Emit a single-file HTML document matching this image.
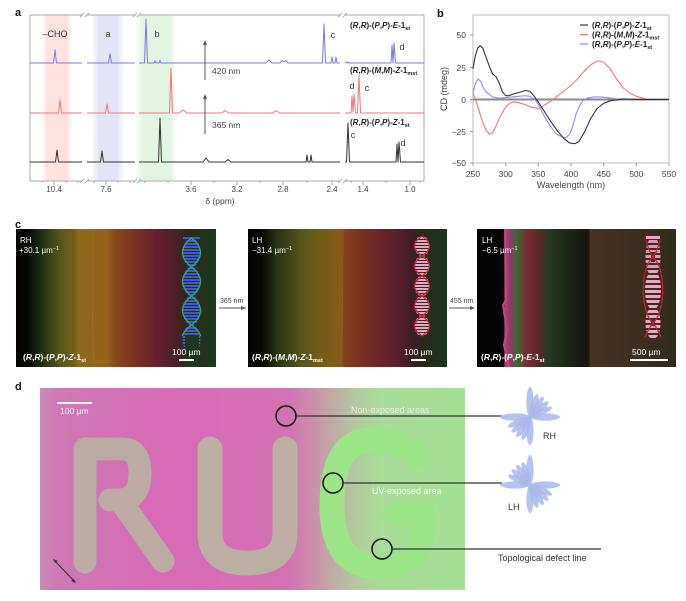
<!DOCTYPE html>
<html><head><meta charset="utf-8">
<style>
html,body{margin:0;padding:0;background:#fff;}
svg{display:block;font-family:"Liberation Sans",Arial,sans-serif;}
</style></head>
<body>
<svg width="686" height="601" viewBox="0 0 686 601" xmlns="http://www.w3.org/2000/svg">
<defs>
  <linearGradient id="bandP" x1="0" x2="1" y1="0" y2="0">
    <stop offset="0" stop-color="#fde6e2" stop-opacity="0"/><stop offset="0.2" stop-color="#fde2dd"/><stop offset="0.8" stop-color="#fde2dd"/><stop offset="1" stop-color="#fde6e2" stop-opacity="0"/>
  </linearGradient>
  <linearGradient id="bandL" x1="0" x2="1" y1="0" y2="0">
    <stop offset="0" stop-color="#e6e6f8" stop-opacity="0"/><stop offset="0.2" stop-color="#e4e4f8"/><stop offset="0.8" stop-color="#e4e4f8"/><stop offset="1" stop-color="#e6e6f8" stop-opacity="0"/>
  </linearGradient>
  <linearGradient id="bandG" x1="0" x2="1" y1="0" y2="0">
    <stop offset="0" stop-color="#e2f4e2" stop-opacity="0"/><stop offset="0.2" stop-color="#e2f5e2"/><stop offset="0.8" stop-color="#e2f5e2"/><stop offset="1" stop-color="#e2f4e2" stop-opacity="0"/>
  </linearGradient>
  <linearGradient id="img1" x1="0" x2="1" y1="0" y2="0">
    <stop offset="0" stop-color="#040404"/><stop offset="0.06" stop-color="#070905"/>
    <stop offset="0.12" stop-color="#1c2c10"/><stop offset="0.22" stop-color="#56561a"/>
    <stop offset="0.30" stop-color="#786218"/><stop offset="0.31" stop-color="#8c6a1c"/>
    <stop offset="0.45" stop-color="#98621a"/><stop offset="0.5" stop-color="#88481c"/>
    <stop offset="0.6" stop-color="#7a3020"/><stop offset="0.7" stop-color="#682030"/>
    <stop offset="0.8" stop-color="#4a1e28"/><stop offset="0.86" stop-color="#2c2a1c"/>
    <stop offset="1" stop-color="#1a381c"/>
  </linearGradient>
  <linearGradient id="img2" x1="0" x2="1" y1="0" y2="0">
    <stop offset="0" stop-color="#040404"/><stop offset="0.07" stop-color="#080906"/>
    <stop offset="0.15" stop-color="#2a3412"/><stop offset="0.27" stop-color="#56561a"/>
    <stop offset="0.36" stop-color="#725e18"/><stop offset="0.47" stop-color="#8a5a1a"/>
    <stop offset="0.48" stop-color="#86401c"/><stop offset="0.6" stop-color="#742c22"/>
    <stop offset="0.72" stop-color="#62202e"/><stop offset="0.82" stop-color="#401c26"/>
    <stop offset="0.88" stop-color="#262a1a"/><stop offset="1" stop-color="#1a361c"/>
  </linearGradient>
  <linearGradient id="img3" x1="0" x2="1" y1="0" y2="0">
    <stop offset="0" stop-color="#030303"/><stop offset="0.135" stop-color="#050505"/>
    <stop offset="0.14" stop-color="#b04070"/><stop offset="0.17" stop-color="#8a3a6a"/>
    <stop offset="0.2" stop-color="#3a6a30"/><stop offset="0.25" stop-color="#7a2a30"/>
    <stop offset="0.31" stop-color="#5a2a28"/><stop offset="0.36" stop-color="#283820"/>
    <stop offset="0.46" stop-color="#1c2414"/><stop offset="0.56" stop-color="#151510"/>
    <stop offset="0.57" stop-color="#4a3222"/><stop offset="0.8" stop-color="#3e2e1e"/>
    <stop offset="1" stop-color="#2e2c18"/>
  </linearGradient>
  <linearGradient id="dbg" x1="0" x2="1" y1="0" y2="0">
    <stop offset="0" stop-color="#c88cb4"/><stop offset="0.04" stop-color="#cf78b4"/>
    <stop offset="0.3" stop-color="#d86ab6"/><stop offset="0.58" stop-color="#d470b4"/>
    <stop offset="0.66" stop-color="#c69aa8"/><stop offset="0.74" stop-color="#b4c8a0"/>
    <stop offset="0.8" stop-color="#a8dc98"/><stop offset="1" stop-color="#a4e094"/>
  </linearGradient>
  <pattern id="pb" width="4" height="3" patternUnits="userSpaceOnUse"><rect width="4" height="2" fill="#3c5ad6"/></pattern>
  <pattern id="pp" width="4" height="3" patternUnits="userSpaceOnUse"><rect width="4" height="2" fill="#eaa6c6"/></pattern>
  <pattern id="pp3" width="4" height="5" patternUnits="userSpaceOnUse"><rect width="4" height="3" fill="#f0a4c4"/></pattern>
  <clipPath id="c1"><rect x="16" y="229" width="200" height="138"/></clipPath>
  <clipPath id="c2"><rect x="248" y="229" width="199" height="138"/></clipPath>
  <clipPath id="c3"><rect x="477" y="229" width="199" height="138"/></clipPath>
</defs>

<!-- ================= PANEL A ================= -->
<text x="15" y="16" font-size="11" font-weight="bold" fill="#111">a</text>
<rect x="41" y="15" width="32" height="166" fill="url(#bandP)"/>
<rect x="92" y="15" width="32" height="166" fill="url(#bandL)"/>
<rect x="135" y="15" width="43" height="166" fill="url(#bandG)"/>
<g stroke="#aaa" stroke-width="1" fill="none">
  <path d="M30,15 L82,15 M87,15 L135,15 M139,15 L340,15 M345,15 L424,15"/>
  <path d="M30,15 L30,181 M424,15 L424,181"/>
  <path d="M30,181 L82,181 M87,181 L135,181 M139,181 L340,181 M345,181 L424,181"/>
  <path d="M80,17 L84,13 M85,17 L89,13 M133,17 L137,13 M137,17 L141,13 M338,17 L342,13 M343,17 L347,13"/>
  <path d="M80,183 L84,179 M85,183 L89,179 M133,183 L137,179 M137,183 L141,179 M338,183 L342,179 M343,183 L347,179"/>
  <path d="M54,181 v4 M106,181 v4 M191,181 v4 M237,181 v4 M283,181 v4 M332,181 v4 M363,181 v4 M410,181 v4"/>
  <path d="M42,181 v2 M66,181 v2 M78,181 v2 M94,181 v2 M118,181 v2 M130,181 v2 M145,181 v2 M168,181 v2 M214,181 v2 M260,181 v2 M307,181 v2 M351,181 v2 M386,181 v2 M420,181 v2"/>
</g>
<g font-size="8" fill="#444" text-anchor="middle">
  <text x="54" y="192">10.4</text><text x="106" y="192">7.6</text><text x="191" y="192">3.6</text>
  <text x="237" y="192">3.2</text><text x="283" y="192">2.8</text><text x="332" y="192">2.4</text>
  <text x="363" y="192">1.4</text><text x="410" y="192">1.0</text>
  <text x="220" y="204" font-size="8.5">δ (ppm)</text>
</g>
<!-- spectra -->
<g fill="none" stroke-width="1" stroke-linejoin="round">
<path stroke="#7878ee" d="M30,63 L53.5,63 L55,50 L56.5,63 L82,63 M87,63 L108.5,63 L110,54 L111.5,63 L135,63 M139,63 L144.5,63 L146,19 L147.5,63 L154,63 L155,61 L156,63 L159,63 L160,60.5 L161,63 L266,63 L269,60 L272,63 L280,63 L282,60.5 L284,62 L286,60.5 L288,63 L322.5,63 L324,24 L325.5,63 L331,63 L332,57 L333,63 L335,63 L336,57 L337,63 L340,63 M345,63 L348,62 L349,63 L391,63 L392,45 L393,63 L394,43 L395.5,63 L424,63"/>
<path stroke="#f07676" d="M30,113 L58.5,113 L60,100 L61.5,113 L82,113 M87,113 L105.5,113 L107,104 L108.5,113 L135,113 M139,113 L169.5,113 L171,68 L172.5,113 L179,113 L183,110 L187,113 L222,113 L225,110.5 L229,113 L273,113 L276,110.5 L280,113 L340,113 M345,113 L351,113 L352,96 L353,112 L354,94 L355.5,113 L357.5,113 L359,75 L360.5,113 L424,113"/>
<path stroke="#333" d="M30,162 L55.5,162 L57,150 L58.5,162 L82,162 M87,162 L100.5,162 L102,151 L103.5,162 L135,162 M139,162 L158.5,162 L160,118 L161.5,162 L203,162 L206,158 L209,162 L225,162 L228,159.5 L231,162 L306,162 L307,155 L308,162 L310,162 L311,155 L312,162 L340,162 M345,162 L346.5,162 L348,123 L349.5,162 L396,162 L397,144 L398,162 L399,142 L400.5,162 L424,162"/>
</g>
<g font-size="9" fill="#333">
  <text x="55" y="37" text-anchor="middle">–CHO</text>
  <text x="108" y="37" text-anchor="middle">a</text>
  <text x="157" y="37" text-anchor="middle">b</text>
  <text x="333" y="38" text-anchor="middle">c</text>
  <text x="402" y="50" text-anchor="middle">d</text>
  <text x="352" y="89" text-anchor="middle">d</text>
  <text x="367" y="91" text-anchor="middle">c</text>
  <text x="353" y="138" text-anchor="middle">c</text>
  <text x="403" y="146" text-anchor="middle">d</text>
  <text x="212" y="74" font-size="8.5" fill="#444">420 nm</text>
  <text x="212" y="128" font-size="8.5" fill="#444">365 nm</text>
</g>
<g stroke="#555" stroke-width="1"><path d="M205,80 L205,44 M205,134 L205,98"/></g>
<g fill="#555"><path d="M203,45 L205,40 L207,45 Z M203,99 L205,94 L207,99 Z"/></g>
<g font-size="8" font-weight="bold" fill="#222">
  <text x="350" y="28">(<tspan font-style="italic">R</tspan>,<tspan font-style="italic">R</tspan>)-(<tspan font-style="italic">P</tspan>,<tspan font-style="italic">P</tspan>)-<tspan font-style="italic">E</tspan>-1<tspan font-size="5.5" dy="2">st</tspan></text>
  <text x="350" y="73">(<tspan font-style="italic">R</tspan>,<tspan font-style="italic">R</tspan>)-(<tspan font-style="italic">M</tspan>,<tspan font-style="italic">M</tspan>)-<tspan font-style="italic">Z</tspan>-1<tspan font-size="5.5" dy="2">mst</tspan></text>
  <text x="350" y="125">(<tspan font-style="italic">R</tspan>,<tspan font-style="italic">R</tspan>)-(<tspan font-style="italic">P</tspan>,<tspan font-style="italic">P</tspan>)-<tspan font-style="italic">Z</tspan>-1<tspan font-size="5.5" dy="2">st</tspan></text>
</g>

<!-- ================= PANEL B ================= -->
<text x="437" y="17" font-size="11" font-weight="bold" fill="#111">b</text>
<rect x="473" y="15" width="196" height="148" fill="none" stroke="#bbb" stroke-width="1"/>
<g stroke="#999" stroke-width="1">
  <path d="M470,35 h3 M470,67.5 h3 M470,99.5 h3 M470,131.5 h3 M470,163 h3"/>
  <path d="M473,163 v3 M505.7,163 v3 M538.3,163 v3 M571,163 v3 M603.7,163 v3 M636.3,163 v3 M669,163 v3"/>
</g>
<g font-size="8.5" fill="#444" text-anchor="end">
  <text x="466" y="38">50</text><text x="466" y="71">25</text><text x="466" y="103">0</text>
  <text x="466" y="135">−25</text><text x="466" y="166">−50</text>
</g>
<g font-size="8.5" fill="#444" text-anchor="middle">
  <text x="473" y="177">250</text><text x="505.7" y="177">300</text><text x="538.3" y="177">350</text>
  <text x="571" y="177">400</text><text x="603.7" y="177">450</text><text x="636.3" y="177">500</text>
  <text x="669" y="177">550</text>
  <text x="571" y="188" font-size="9">Wavelength (nm)</text>
  <text transform="translate(447,89) rotate(-90)" font-size="9">CD (mdeg)</text>
</g>
<line x1="473" y1="99.5" x2="669" y2="99.5" stroke="#8a8a8a" stroke-width="2"/>
<g fill="none" stroke-width="1.1" stroke-linejoin="round">
<polyline stroke="#f07676" points="473,93.1 476.3,102.1 479.5,112.3 482.8,122.5 486.1,130.2 489.3,134.1 492.6,132.8 495.9,126.4 499.1,118.7 502.4,112.3 505.7,107.2 508.9,104 512.2,102.1 515.5,102.1 518.7,102.7 525.3,104.6 531.8,107.2 538.3,108.5 541.6,107.2 544.9,104.6 551.4,100.8 557.9,95.7 564.5,90.5 571,85.4 577.5,79 584.1,71.3 590.6,64.9 597.1,61.1 600.4,61.1 603.7,62.4 610.2,68.8 616.7,79 623.3,88 629.8,93.1 636.3,96.3 642.9,98.2 649.4,99.5 669,99.5"/>
<polyline stroke="#8c8cf2" points="473,93.1 475.6,82.9 478.2,79 480.8,81.6 483.5,88 486.1,91.8 489.3,94.4 492.6,96.9 499.1,98.2 505.7,97.6 512.2,96.9 518.7,96.3 525.3,95.7 529.8,96.3 535.1,99.5 538.3,104.6 544.9,117.4 551.4,127.7 556.6,134.1 561.2,136.6 565.8,137.9 569.7,134.1 573,125.1 576.2,113.6 579.5,105.9 582.8,100.8 587.3,98.2 593.9,96.9 600.4,96.9 606.9,97.6 616.7,98.9 629.8,99.5 669,99.5"/>
<polyline stroke="#333" points="473,68.8 475,57.3 477.6,48.3 480.2,45.7 482.8,48.3 486.1,57.3 489.3,66.2 492.6,73.9 495.9,76.5 499.1,82.9 502.4,91.8 505.7,95.7 508.9,95.7 512.2,94.4 518.7,92.5 525.3,90.5 529.8,91.2 533.8,95.7 538.3,102.1 544.9,112.3 551.4,122.5 557.9,131.5 564.5,139.2 569.7,143 574.3,143.7 578.8,141.7 584.1,132.8 590.6,118.7 597.1,108.5 603.7,103.3 610.2,100.8 623.3,98.9 636.3,99.5 669,99.5"/>
</g>
<g stroke-width="1.2">
  <line x1="580" y1="25" x2="588" y2="25" stroke="#333"/>
  <line x1="580" y1="34.5" x2="588" y2="34.5" stroke="#f07676"/>
  <line x1="580" y1="44" x2="588" y2="44" stroke="#8c8cf2"/>
</g>
<g font-size="8" font-weight="bold" fill="#222">
  <text x="592" y="28">(<tspan font-style="italic">R</tspan>,<tspan font-style="italic">R</tspan>)-(<tspan font-style="italic">P</tspan>,<tspan font-style="italic">P</tspan>)-<tspan font-style="italic">Z</tspan>-1<tspan font-size="5.5" dy="2">st</tspan></text>
  <text x="592" y="37.5">(<tspan font-style="italic">R</tspan>,<tspan font-style="italic">R</tspan>)-(<tspan font-style="italic">M</tspan>,<tspan font-style="italic">M</tspan>)-<tspan font-style="italic">Z</tspan>-1<tspan font-size="5.5" dy="2">mst</tspan></text>
  <text x="592" y="47">(<tspan font-style="italic">R</tspan>,<tspan font-style="italic">R</tspan>)-(<tspan font-style="italic">P</tspan>,<tspan font-style="italic">P</tspan>)-<tspan font-style="italic">E</tspan>-1<tspan font-size="5.5" dy="2">st</tspan></text>
</g>

<!-- ================= PANEL C ================= -->
<text x="15" y="228" font-size="11" font-weight="bold" fill="#111">c</text>
<rect x="16" y="229" width="200" height="138" fill="url(#img1)"/>
<rect x="248" y="229" width="199" height="138" fill="url(#img2)"/>
<rect x="477" y="229" width="199" height="138" fill="url(#img3)"/>
<!-- subtle boundary lines -->
<path d="M93,229 Q91,290 94,367" stroke="#a0782a" stroke-width="1" fill="none" opacity="0.6"/>
<path d="M343,229 L342,367" stroke="#9a6a28" stroke-width="1" fill="none" opacity="0.5"/>
<path d="M505,229 L506,300 L503,305 L507,330 L504,345 L509,367" stroke="#c04878" stroke-width="2" fill="none"/>

<!-- helix 1 -->
<g clip-path="url(#c1)">
  <ellipse cx="191.5" cy="252.5" rx="9" ry="14.5" fill="url(#pb)"/>
  <ellipse cx="191.5" cy="281.5" rx="9" ry="14.5" fill="url(#pb)"/>
  <ellipse cx="191.5" cy="310.5" rx="9" ry="14.5" fill="url(#pb)"/>
  <ellipse cx="191.5" cy="339.5" rx="9" ry="14.5" fill="url(#pb)"/>
  <rect x="185" y="336" width="14" height="40" fill="#1a381c"/>
  <rect x="183" y="236" width="17" height="3" fill="url(#pb)"/>
  <g fill="none" stroke="#2fb070" stroke-width="1.3">
    <path d="M191.5,238 C203.5,247.7 203.5,257.3 191.5,267 C179.5,276.7 179.5,286.3 191.5,296 C203.5,305.7 203.5,315.3 191.5,325 C185,330 183,333 182.5,336"/>
    <path d="M191.5,238 C179.5,247.7 179.5,257.3 191.5,267 C203.5,276.7 203.5,286.3 191.5,296 C179.5,305.7 179.5,315.3 191.5,325 C198,330 200,333 200.5,336"/>
  </g>
</g>
<!-- helix 2 -->
<g clip-path="url(#c2)">
  <ellipse cx="422" cy="246" rx="7.5" ry="10" fill="url(#pp)"/>
  <ellipse cx="422" cy="266" rx="7.5" ry="10" fill="url(#pp)"/>
  <ellipse cx="422" cy="286" rx="7.5" ry="10" fill="url(#pp)"/>
  <ellipse cx="422" cy="306" rx="7.5" ry="10" fill="url(#pp)"/>
  <ellipse cx="422" cy="326" rx="7.5" ry="10" fill="url(#pp)"/>
  <g fill="none" stroke="#d81e40" stroke-width="1.2">
    <path d="M422,236 C432,242.7 432,249.3 422,256 C412,262.7 412,269.3 422,276 C432,282.7 432,289.3 422,296 C412,302.7 412,309.3 422,316 C432,322.7 432,329.3 422,336"/>
    <path d="M422,236 C412,242.7 412,249.3 422,256 C432,262.7 432,269.3 422,276 C412,282.7 412,289.3 422,296 C432,302.7 432,309.3 422,316 C412,322.7 412,329.3 422,336"/>
  </g>
</g>
<!-- helix 3 -->
<g clip-path="url(#c3)">
  <rect x="646" y="236" width="14" height="3" fill="#f0a4c4"/>
  <ellipse cx="653" cy="257" rx="7.5" ry="20" fill="url(#pp3)" opacity="0.9"/>
  <ellipse cx="653" cy="290" rx="8" ry="20" fill="url(#pp3)"/>
  <ellipse cx="653" cy="323" rx="7.5" ry="16" fill="url(#pp3)"/>
  <rect x="651" y="252" width="4" height="10" fill="#3e2e1e"/>
  <rect x="651" y="318" width="4" height="8" fill="#3e2e1e"/>
  <g fill="none" stroke="#d01e38" stroke-width="1.2">
    <path d="M660,240 C658,248 656,253 653,257 C640,268 640,312 653,323 C656,327 659,332 661,337"/>
    <path d="M646,240 C648,248 650,253 653,257 C666,268 666,312 653,323 C650,327 647,332 645,337"/>
  </g>
</g>
<g fill="#fff" font-size="8">
  <text x="20" y="243">RH</text>
  <text x="19" y="253">+30.1 µm<tspan font-size="5.5" dy="-3">−1</tspan></text>
  <text x="252" y="243">LH</text>
  <text x="252" y="253">−31.4 µm<tspan font-size="5.5" dy="-3">−1</tspan></text>
  <text x="482" y="243">LH</text>
  <text x="482" y="253">−6.5 µm<tspan font-size="5.5" dy="-3">−1</tspan></text>
  <text x="172" y="355" font-size="8.5">100 µm</text>
  <text x="404" y="355" font-size="8.5">100 µm</text>
  <text x="632" y="355" font-size="8.5">500 µm</text>
</g>
<g fill="#fff">
  <rect x="179" y="359" width="15" height="2"/>
  <rect x="411" y="359" width="15" height="2"/>
  <rect x="630" y="359" width="38" height="2"/>
</g>
<g font-size="8.5" font-weight="bold" fill="#fff">
  <text x="23" y="360">(<tspan font-style="italic">R</tspan>,<tspan font-style="italic">R</tspan>)-(<tspan font-style="italic">P</tspan>,<tspan font-style="italic">P</tspan>)-<tspan font-style="italic">Z</tspan>-1<tspan font-size="5.5" dy="2">st</tspan></text>
  <text x="252" y="360">(<tspan font-style="italic">R</tspan>,<tspan font-style="italic">R</tspan>)-(<tspan font-style="italic">M</tspan>,<tspan font-style="italic">M</tspan>)-<tspan font-style="italic">Z</tspan>-1<tspan font-size="5.5" dy="2">mst</tspan></text>
  <text x="481" y="360">(<tspan font-style="italic">R</tspan>,<tspan font-style="italic">R</tspan>)-(<tspan font-style="italic">P</tspan>,<tspan font-style="italic">P</tspan>)-<tspan font-style="italic">E</tspan>-1<tspan font-size="5.5" dy="2">st</tspan></text>
</g>
<g font-size="7" fill="#444">
  <text x="220" y="303">365 nm</text>
  <text x="450" y="303">455 nm</text>
</g>
<g stroke="#556" stroke-width="1"><path d="M219,308 L243,308 M449,308 L472,308"/></g>
<g fill="#556"><path d="M241,306 L246,308 L241,310 Z M470,306 L475,308 L470,310 Z"/></g>

<!-- ================= PANEL D ================= -->
<text x="15" y="390" font-size="11" font-weight="bold" fill="#111">d</text>
<rect x="40" y="388" width="425" height="202" fill="url(#dbg)"/>
<g fill="none" stroke-linecap="round" stroke-linejoin="round">
  <path d="M85,562 L85,449 L122,449 Q140,449 140,473 Q140,499 120,500 L110,500 M120,500 L163,561" stroke="#bcaaa4" stroke-width="23"/>
  <path d="M210,449 L210,533 Q210,563 247,563 Q285,563 285,533 L285,449" stroke="#bcaea2" stroke-width="25"/>
  <path d="M418,456 Q400,440 372,440 Q332,440 332,505 Q332,566 376,566 Q423,566 423,528 L423,514 L396,514" stroke="#9ce488" stroke-width="25"/>
</g>
<!-- circles and lines -->
<g fill="none" stroke="#111" stroke-width="1.5">
  <circle cx="286" cy="416" r="10"/>
  <circle cx="333" cy="483" r="10"/>
  <circle cx="382" cy="549" r="10"/>
</g>
<g stroke="#333" stroke-width="1.2">
  <line x1="296" y1="416" x2="502" y2="416"/>
  <line x1="343" y1="483" x2="502" y2="483"/>
  <line x1="392" y1="549" x2="601" y2="549"/>
</g>
<g font-size="9">
  <text x="351" y="413" fill="#f2e8f0">Non-exposed areas</text>
  <text x="372" y="494" fill="#f4fbf2">UV-exposed area</text>
  <text x="498" y="561" fill="#333">Topological defect line</text>
  <text x="543" y="439" fill="#333">RH</text>
  <text x="508" y="510" fill="#333">LH</text>
</g>
<rect x="57" y="402" width="35" height="2" fill="#fff"/>
<text x="60" y="414" font-size="8.5" fill="#fff">100 µm</text>
<g stroke="#333" stroke-width="1"><line x1="54" y1="560" x2="75" y2="582"/></g>
<g fill="#333"><path d="M53,559 L58,561 L55,563 Z M76,583 L71,581 L74,579 Z"/></g>
<!-- flowers -->
<g fill="#a9b9ea" fill-opacity="0.85" transform="translate(530,417)">
  <ellipse cx="15" cy="0" rx="15" ry="3.6" transform="rotate(-90)"/>
  <ellipse cx="12" cy="0" rx="12" ry="3.2" transform="rotate(-72)"/>
  <ellipse cx="12" cy="0" rx="12" ry="3.2" transform="rotate(-56)"/>
  <ellipse cx="12" cy="0" rx="12" ry="3.2" transform="rotate(-40)"/>
  <ellipse cx="12" cy="0" rx="12" ry="3.2" transform="rotate(-24)"/>
  <ellipse cx="15" cy="0" rx="15" ry="3.6" transform="rotate(0)"/>
  <ellipse cx="14" cy="0" rx="14" ry="3.6" transform="rotate(90)"/>
  <ellipse cx="12" cy="0" rx="12" ry="3.2" transform="rotate(108)"/>
  <ellipse cx="12" cy="0" rx="12" ry="3.2" transform="rotate(124)"/>
  <ellipse cx="12" cy="0" rx="12" ry="3.2" transform="rotate(140)"/>
  <ellipse cx="12" cy="0" rx="12" ry="3.2" transform="rotate(156)"/>
  <ellipse cx="15" cy="0" rx="15" ry="3.6" transform="rotate(180)"/>
</g>
<g fill="#a9b9ea" fill-opacity="0.85" transform="translate(530,485)">
  <ellipse cx="15" cy="0" rx="15" ry="3.6" transform="rotate(-90)"/>
  <ellipse cx="12" cy="0" rx="12" ry="3.2" transform="rotate(-108)"/>
  <ellipse cx="12" cy="0" rx="12" ry="3.2" transform="rotate(-124)"/>
  <ellipse cx="12" cy="0" rx="12" ry="3.2" transform="rotate(-140)"/>
  <ellipse cx="12" cy="0" rx="12" ry="3.2" transform="rotate(-156)"/>
  <ellipse cx="15" cy="0" rx="15" ry="3.6" transform="rotate(180)"/>
  <ellipse cx="14" cy="0" rx="14" ry="3.6" transform="rotate(90)"/>
  <ellipse cx="12" cy="0" rx="12" ry="3.2" transform="rotate(72)"/>
  <ellipse cx="12" cy="0" rx="12" ry="3.2" transform="rotate(56)"/>
  <ellipse cx="12" cy="0" rx="12" ry="3.2" transform="rotate(40)"/>
  <ellipse cx="12" cy="0" rx="12" ry="3.2" transform="rotate(24)"/>
  <ellipse cx="15" cy="0" rx="15" ry="3.6" transform="rotate(0)"/>
</g>
</svg>
</body></html>
